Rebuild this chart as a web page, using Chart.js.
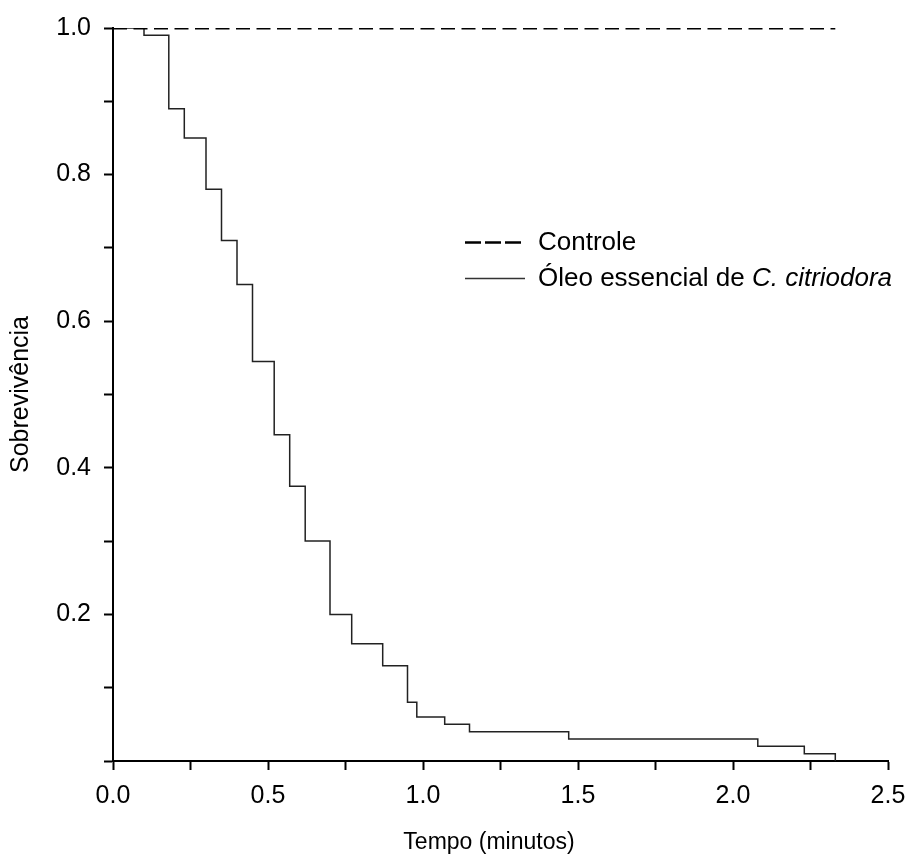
<!DOCTYPE html>
<html>
<head>
<meta charset="utf-8">
<script src="https://cdn.jsdelivr.net/npm/chart.js@4"></script>
<style>
  html, body { margin: 0; padding: 0; background: #fff; }
  #wrap { width: 906px; height: 857px; }
</style>
</head>
<body>
<div id="wrap"><canvas id="chart"></canvas></div>
<script>
// tempo (minutos) em que a curva cai, e a sobrevivencia depois da queda
const tempos = [0, 0.10, 0.18, 0.23, 0.30, 0.35, 0.40, 0.45, 0.52, 0.57, 0.62, 0.70, 0.77, 0.87, 0.95, 0.98, 1.07, 1.15, 1.47, 2.08, 2.23, 2.33];
const sobrevivencia = [1.0, 0.99, 0.89, 0.85, 0.78, 0.71, 0.65, 0.545, 0.445, 0.375, 0.30, 0.20, 0.16, 0.13, 0.08, 0.06, 0.05, 0.04, 0.03, 0.02, 0.01, 0.0];

const controleTempos = [0, 2.33];
const controleValores = [1.0, 1.0];

const legendas = ['Controle', 'Óleo essencial de ', 'C. citriodora'];
const yLabels = [0.2, 0.4, 0.6, 0.8, 1.0];
const tituloX = 'Tempo (minutos)';

const FONT = 'Liberation Sans, Arial, sans-serif';

function pontos(xs, ys) {
  return xs.map((x, i) => ({ x: x, y: ys[i] }));
}

// legenda e titulo do eixo x desenhados a mao (italico, posicao)
const legendaPlugin = {
  id: 'legendaManual',
  afterDraw(chart) {
    const ctx = chart.ctx;
    ctx.save();
    ctx.strokeStyle = '#000';
    ctx.fillStyle = '#000';
    ctx.textBaseline = 'middle';

    ctx.lineWidth = 2.5;
    ctx.setLineDash([16, 4]);
    ctx.beginPath();
    ctx.moveTo(465, 242.5);
    ctx.lineTo(522, 242.5);
    ctx.stroke();

    ctx.setLineDash([]);
    ctx.lineWidth = 1.5;
    ctx.strokeStyle = '#333';
    ctx.beginPath();
    ctx.moveTo(465, 278.5);
    ctx.lineTo(525, 278.5);
    ctx.stroke();

    ctx.font = '26px ' + FONT;
    ctx.fillText(legendas[0], 538, 243);
    ctx.fillText(legendas[1], 538, 279);
    const w = ctx.measureText(legendas[1]).width;
    ctx.font = 'italic 26px ' + FONT;
    ctx.fillText(legendas[2], 538 + w, 279);

    ctx.font = '23px ' + FONT;
    ctx.textAlign = 'center';
    ctx.fillText(tituloX, 489, 843);
    ctx.restore();
  }
};

const ctx = document.getElementById('chart').getContext('2d');
new Chart(ctx, {
  type: 'line',
  data: {
    datasets: [
      {
        label: legendas[0],
        data: pontos(controleTempos, controleValores),
        borderColor: '#000',
        borderWidth: 3,
        borderDash: [14, 6.5],
        pointRadius: 0,
        fill: false
      },
      {
        label: legendas[1] + legendas[2],
        data: pontos(tempos, sobrevivencia),
        borderColor: '#222',
        borderWidth: 1.5,
        stepped: 'before',
        pointRadius: 0,
        fill: false
      }
    ]
  },
  plugins: [legendaPlugin],
  options: {
    responsive: true,
    maintainAspectRatio: false,
    animation: false,
    layout: {
      padding: { left: 0, right: 18, top: 26, bottom: 0 }
    },
    plugins: {
      legend: { display: false },
      tooltip: { enabled: false }
    },
    scales: {
      x: {
        type: 'linear',
        min: 0,
        max: 2.5,
        border: { color: '#000', width: 2 },
        grid: {
          drawOnChartArea: false,
          color: '#000',
          tickLength: 9,
          tickWidth: 2
        },
        ticks: {
          stepSize: 0.25,
          autoSkip: false,
          maxRotation: 0,
          color: '#000',
          padding: 11,
          font: { family: FONT, size: 25 },
          callback: v => (Math.abs(v * 2 - Math.round(v * 2)) < 1e-6 ? v.toFixed(1) : '')
        },
        title: { display: false },
        afterFit: s => { s.height = 96; s.paddingRight = 0; }
      },
      y: {
        type: 'linear',
        min: 0,
        max: 1.0,
        border: { color: '#000', width: 2 },
        grid: {
          drawOnChartArea: false,
          color: '#000',
          tickLength: 9,
          tickWidth: 2
        },
        ticks: {
          stepSize: 0.1,
          autoSkip: false,
          color: '#000',
          padding: 13,
          font: { family: FONT, size: 25 },
          callback: v => {
            const lab = yLabels.find(l => Math.abs(l - v) < 1e-6);
            return lab !== undefined ? lab.toFixed(1) : '';
          }
        },
        title: {
          display: true,
          text: 'Sobrevivência',
          color: '#000',
          font: { family: FONT, size: 25 },
          padding: { top: 6, bottom: 0 }
        },
        afterFit: s => { s.width = 113; }
      }
    }
  }
});
</script>
</body>
</html>
